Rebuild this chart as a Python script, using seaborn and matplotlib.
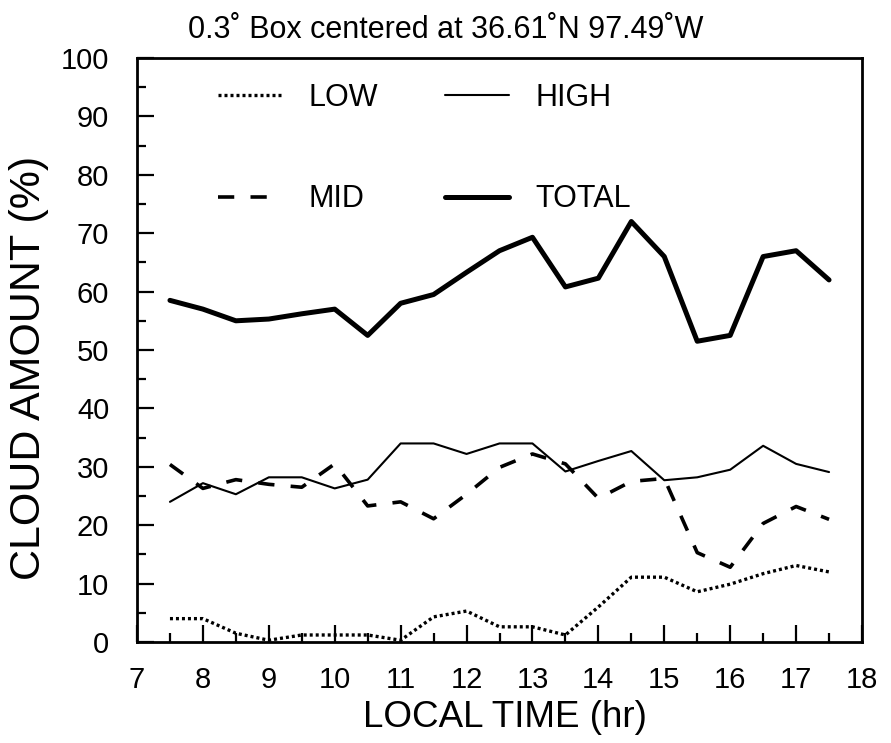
import numpy as np
import pandas as pd
import matplotlib
matplotlib.use("Agg")
import matplotlib.pyplot as plt
import seaborn as sns
from matplotlib.ticker import MultipleLocator

hours = [7.5, 8, 8.5, 9, 9.5, 10, 10.5, 11, 11.5, 12, 12.5, 13, 13.5, 14,
         14.5, 15, 15.5, 16, 16.5, 17, 17.5]
low = [4.0, 4.0, 1.5, 0.3, 1.2, 1.2, 1.2, 0.3, 4.3, 5.3, 2.6, 2.6, 1.2, 6.0,
       11.1, 11.1, 8.6, 9.9, 11.7, 13.1, 12.0]
mid = [30.4, 26.3, 27.8, 27.0, 26.5, 30.5, 23.3, 24.0, 21.1, 25.3, 29.9, 32.2,
       30.5, 24.6, 27.5, 28.0, 15.3, 12.8, 20.3, 23.2, 21.0]
high = [24.0, 27.2, 25.3, 28.2, 28.2, 26.3, 27.8, 34.0, 34.0, 32.2, 34.0, 34.0,
        29.2, 31.0, 32.7, 27.7, 28.2, 29.5, 33.6, 30.5, 29.1]
total = [58.5, 57.0, 55.0, 55.3, 56.2, 57.0, 52.5, 58.0, 59.5, 63.3, 67.0, 69.3,
         60.8, 62.3, 72.0, 66.0, 51.5, 52.5, 66.0, 67.0, 62.0]

title = "0.3\u02da Box centered at 36.61\u02daN 97.49\u02daW"
xlabel = "LOCAL TIME (hr)"
ylabel = "CLOUD AMOUNT (%)"

sns.set_theme(style="ticks")
plt.rcParams['font.family'] = ['Liberation Sans', 'DejaVu Sans']

fig = plt.figure(figsize=(8.91, 7.43), dpi=100)
ax = fig.add_axes([137/891, 1 - 642/743, (862 - 137)/891, (642 - 58)/743])

df = pd.DataFrame({"hour": hours, "LOW": low, "MID": mid, "HIGH": high, "TOTAL": total})

sns.lineplot(data=df, x="hour", y="LOW", ax=ax, color="black", lw=2.4,
             label="LOW")
ax.lines[-1].set_dashes((0.9, 0.9))
sns.lineplot(data=df, x="hour", y="MID", ax=ax, color="black", lw=2.6,
             label="MID")
ax.lines[-1].set_dashes((4.5, 4.5))
sns.lineplot(data=df, x="hour", y="HIGH", ax=ax, color="black", lw=1.5,
             label="HIGH")
sns.lineplot(data=df, x="hour", y="TOTAL", ax=ax, color="black", lw=3.6,
             label="TOTAL")

ax.set_xlim(7, 18)
ax.set_ylim(0, 100)
ax.xaxis.set_major_locator(MultipleLocator(1))
ax.xaxis.set_minor_locator(MultipleLocator(0.5))
ax.yaxis.set_major_locator(MultipleLocator(10))
ax.yaxis.set_minor_locator(MultipleLocator(5))
ax.tick_params(axis="both", which="major", direction="in", length=12, width=1.6,
               labelsize=21, color="black", labelcolor="black")
ax.tick_params(axis="both", which="minor", direction="in", length=6.5, width=1.6,
               color="black")
ax.tick_params(axis="y", which="major", pad=20)
ax.tick_params(axis="x", which="major", pad=17)
for s in ax.spines.values():
    s.set_visible(True)
    s.set_linewidth(2.0)
    s.set_color("black")

ax.set_xlabel(xlabel, fontsize=26.5, color="black")
ax.xaxis.set_label_coords(0.508, -0.099)
ax.set_ylabel(ylabel, fontsize=31, color="black")
ax.yaxis.set_label_coords(-0.121, 0.469)
fig.text(0.5, 1 - 38/743, title, fontsize=22, color="black",
         ha="center", va="baseline")

leg = ax.legend(ncol=2, frameon=False, fontsize=22, loc="upper left",
                bbox_to_anchor=(0.112, 0.958), borderpad=0, borderaxespad=0,
                handlelength=2.1, handletextpad=0.85, columnspacing=2.2,
                labelspacing=2.35, labelcolor="black")

fig.savefig("out.png", dpi=100, facecolor="white")
